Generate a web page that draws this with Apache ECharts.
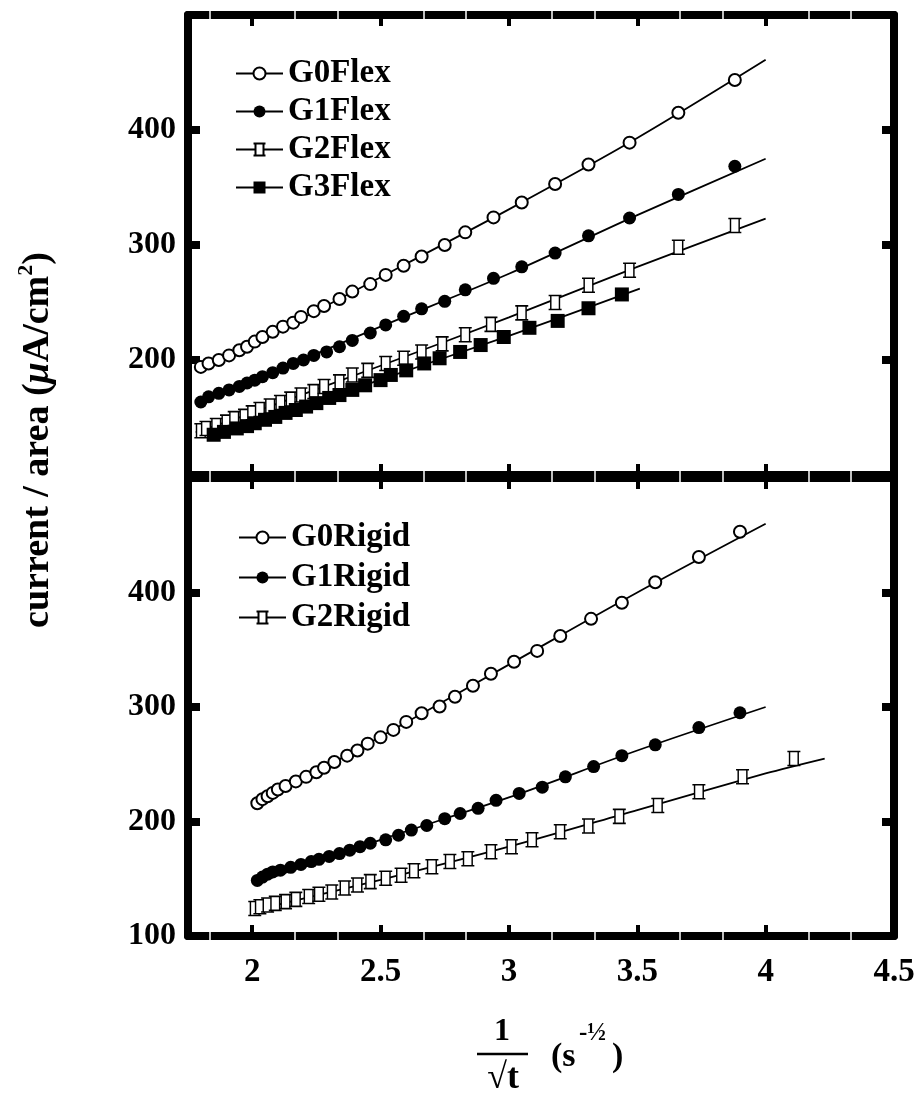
<!DOCTYPE html>
<html>
<head>
<meta charset="utf-8">
<script src="https://cdn.jsdelivr.net/npm/echarts@6.0.0/dist/echarts.min.js"></script>
<style>
html, body { margin: 0; padding: 0; background: #fff; }
#chart { width: 923px; height: 1099px; }
</style>
</head>
<body>
<div id="chart"></div>
<script>
// axis ticks
const xTicks = [2, 2.5, 3, 3.5, 4, 4.5]
const xMinor = [1.8333, 2.1667, 2.3333, 2.6667, 2.8333, 3.1667, 3.3333, 3.6667, 3.8333, 4.1667, 4.3333]
const yTicks = [200, 300, 400]
const yLabelsFlex = [200, 300, 400]
const yLabelsRigid = [100, 200, 300, 400]

// top panel: flexible
const g0FlexPts = [[1.80, 194], [1.83, 197], [1.87, 200], [1.91, 204], [1.95, 208.5], [1.98, 211.5], [2.01, 216], [2.04, 220], [2.08, 224.5], [2.12, 229], [2.16, 232.5], [2.19, 237.5], [2.24, 242.5], [2.28, 247], [2.34, 253], [2.39, 259.5], [2.46, 266], [2.52, 274], [2.59, 282], [2.66, 290], [2.75, 300], [2.83, 311], [2.94, 324], [3.05, 337], [3.18, 353], [3.31, 370], [3.47, 389], [3.66, 415], [3.88, 443.5]]
const g0FlexFit = [[1.78, 193], [2.0, 214], [2.5, 272], [3.0, 331], [3.5, 393], [4.0, 461]]
const g1FlexPts = [[1.80, 163.5], [1.83, 168], [1.87, 171], [1.91, 174], [1.95, 177], [1.98, 180], [2.01, 182.5], [2.04, 185.5], [2.08, 189], [2.12, 193], [2.16, 197], [2.20, 200], [2.24, 204], [2.29, 207], [2.34, 211.5], [2.39, 217], [2.46, 223.5], [2.52, 230.5], [2.59, 238], [2.66, 244.5], [2.75, 251], [2.83, 261], [2.94, 271], [3.05, 281], [3.18, 293], [3.31, 308], [3.47, 323.5], [3.66, 344], [3.88, 368.5]]
const g1FlexFit = [[1.78, 162], [2.0, 182], [2.5, 229], [3.0, 275], [3.5, 326], [4.0, 375]]
const g2FlexPts = [[1.80, 138.5], [1.82, 140.5], [1.86, 143], [1.90, 146], [1.93, 149], [1.97, 151], [2.00, 154], [2.03, 157], [2.07, 160], [2.11, 163], [2.15, 166], [2.19, 169.5], [2.24, 172.5], [2.28, 177], [2.34, 181], [2.39, 187], [2.45, 191], [2.52, 197], [2.59, 201.5], [2.66, 207], [2.74, 214], [2.83, 222], [2.93, 231], [3.05, 241], [3.18, 250], [3.31, 265], [3.47, 278], [3.66, 298], [3.88, 317]]
const g2FlexFit = [[1.78, 137], [2.0, 154], [2.5, 195], [3.0, 237], [3.5, 281], [4.0, 323]]
const g3FlexPts = [[1.85, 135], [1.89, 137.5], [1.94, 140.5], [1.98, 142.5], [2.01, 145], [2.05, 148], [2.09, 150.5], [2.13, 154], [2.17, 156.5], [2.21, 159.5], [2.25, 162.5], [2.30, 167], [2.34, 169.5], [2.39, 174], [2.44, 178], [2.50, 182.5], [2.54, 187], [2.60, 191], [2.67, 197], [2.73, 201.5], [2.81, 207], [2.89, 213], [2.98, 220], [3.08, 228], [3.19, 234], [3.31, 245], [3.44, 257]]
const g3FlexFit = [[1.84, 133], [2.0, 144], [2.5, 183], [3.0, 221], [3.51, 262]]

// bottom panel: rigid
const g0RigidPts = [[2.02, 216], [2.04, 219.5], [2.06, 222], [2.08, 225], [2.10, 228], [2.13, 231], [2.17, 235], [2.21, 239], [2.25, 243], [2.28, 247], [2.32, 252], [2.37, 257.5], [2.41, 262], [2.45, 268], [2.50, 273.5], [2.55, 280], [2.60, 287], [2.66, 294.5], [2.73, 300.5], [2.79, 309], [2.86, 318.5], [2.93, 329], [3.02, 339.5], [3.11, 349], [3.20, 362], [3.32, 377], [3.44, 391], [3.57, 409], [3.74, 431], [3.90, 453]]
const g0RigidFit = [[2.01, 214], [2.5, 274], [3.0, 337], [3.5, 400], [4.0, 460]]
const g1RigidPts = [[2.02, 148.5], [2.04, 151.5], [2.06, 154], [2.08, 156], [2.11, 157.5], [2.15, 160], [2.19, 162.5], [2.23, 165], [2.26, 167], [2.30, 169.5], [2.34, 172], [2.38, 175], [2.42, 178], [2.46, 181], [2.52, 184], [2.57, 188], [2.62, 192.5], [2.68, 196.5], [2.75, 202.5], [2.81, 207], [2.88, 211.5], [2.95, 218.5], [3.04, 224.5], [3.13, 230], [3.22, 239], [3.33, 248], [3.44, 257.5], [3.57, 267], [3.74, 282], [3.90, 295]]
const g1RigidFit = [[2.01, 146], [2.5, 184], [3.0, 221], [3.5, 262], [4.0, 300]]
const g2RigidPts = [[2.01, 124], [2.03, 125.5], [2.06, 127], [2.09, 128.5], [2.13, 130], [2.17, 132], [2.22, 134.5], [2.26, 136.5], [2.31, 138.5], [2.36, 142], [2.41, 144.5], [2.46, 147.5], [2.52, 150.5], [2.58, 153], [2.63, 157], [2.70, 160.5], [2.77, 165], [2.84, 167.5], [2.93, 173.5], [3.01, 178], [3.09, 184], [3.20, 191], [3.31, 196], [3.43, 204.5], [3.58, 214], [3.74, 226], [3.91, 239], [4.11, 255]]
const g2RigidFit = [[2.0, 122], [2.5, 149], [3.0, 178], [3.5, 210], [4.0, 242], [4.23, 255]]

const FONT = 'Liberation Serif'
const SQUARE_CAPS = 'path://M2 0H10V12H2Z M0 0H12 M0 12H12'

const markers = {
  g0: { symbol: 'emptyCircle', symbolSize: 12, itemStyle: { color: '#000', borderColor: '#000', borderWidth: 1.5, opacity: 1 } },
  g1: { symbol: 'circle', symbolSize: 13, itemStyle: { color: '#000', opacity: 1 } },
  g2: { symbol: SQUARE_CAPS, symbolSize: [13, 14], itemStyle: { color: '#fff', borderColor: '#000', borderWidth: 1.5, opacity: 1 } },
  g3: { symbol: 'rect', symbolSize: 14, itemStyle: { color: '#000', opacity: 1 } }
}

function fitSeries (name, data, panel, m) {
  return {
    name,
    type: 'line',
    xAxisIndex: panel * 2,
    yAxisIndex: panel * 2,
    data,
    smooth: 0.3,
    showSymbol: false,
    symbol: m.symbol,
    symbolSize: m.symbolSize,
    itemStyle: m.itemStyle,
    lineStyle: { color: '#000', width: 1.8 },
    silent: true,
    emphasis: { disabled: true },
    z: 2
  }
}

function pointSeries (name, data, panel, m) {
  return {
    name,
    type: 'scatter',
    xAxisIndex: panel * 2,
    yAxisIndex: panel * 2,
    data,
    symbol: m.symbol,
    symbolSize: m.symbolSize,
    itemStyle: m.itemStyle,
    silent: true,
    emphasis: { disabled: true },
    z: 3
  }
}

function xAxis (gi, pos, withLabels) {
  return {
    type: 'value',
    gridIndex: gi,
    position: pos,
    min: 1.75,
    max: 4.5,
    axisLine: { onZero: false, lineStyle: { color: '#000', width: 8 } },
    axisTick: { inside: true, length: 11, customValues: xTicks, lineStyle: { color: '#000', width: 4 } },
    axisLabel: {
      show: withLabels,
      customValues: xTicks,
      margin: 20,
      color: '#000',
      fontFamily: FONT,
      fontWeight: 'bold',
      fontSize: 33
    },
    splitLine: { show: false }
  }
}

// thin white slits across the thick frame
function slitAxis (gi, pos) {
  return {
    type: 'value',
    gridIndex: gi,
    position: pos,
    offset: 5,
    min: 1.75,
    max: 4.5,
    z: 5,
    axisLine: { show: false },
    axisTick: { inside: true, length: 10, customValues: xMinor, lineStyle: { color: '#fff', width: 1.5 } },
    axisLabel: { show: false },
    splitLine: { show: false }
  }
}

function yAxis (gi, pos, labels) {
  return {
    type: 'value',
    gridIndex: gi,
    position: pos,
    min: 100,
    max: 500,
    axisLine: { onZero: false, lineStyle: { color: '#000', width: 8 } },
    axisTick: { inside: true, length: 12, customValues: yTicks, lineStyle: { color: '#000', width: 8 } },
    axisLabel: {
      show: !!labels,
      customValues: labels || yTicks,
      margin: 12,
      color: '#000',
      fontFamily: FONT,
      fontWeight: 'bold',
      fontSize: 32
    },
    splitLine: { show: false }
  }
}

function legend (names, left, top, gap) {
  return {
    data: names,
    orient: 'vertical',
    left,
    top,
    padding: 0,
    itemWidth: 47,
    itemHeight: 15,
    itemGap: gap,
    selectedMode: false,
    textStyle: { color: '#000', fontFamily: FONT, fontWeight: 'bold', fontSize: 33, lineHeight: 32 }
  }
}

const txt = { fill: '#000', fontFamily: FONT, fontWeight: 'bold' }

let options = {
  animation: false,
  backgroundColor: '#fff',
  grid: [
    { left: 188, right: 29, top: 15, height: 460, outerBoundsMode: 'none' },
    { left: 188, right: 29, top: 478, height: 458, outerBoundsMode: 'none' }
  ],
  xAxis: [
    xAxis(0, 'bottom', false),
    xAxis(0, 'top', false),
    xAxis(1, 'bottom', true),
    xAxis(1, 'top', false),
    slitAxis(0, 'bottom'),
    slitAxis(0, 'top'),
    slitAxis(1, 'bottom'),
    slitAxis(1, 'top')
  ],
  yAxis: [
    yAxis(0, 'left', yLabelsFlex),
    yAxis(0, 'right', null),
    yAxis(1, 'left', yLabelsRigid),
    yAxis(1, 'right', null)
  ],
  legend: [
    legend(['G0Flex', 'G1Flex', 'G2Flex', 'G3Flex'], 235, 57, 5),
    legend(['G0Rigid', 'G1Rigid', 'G2Rigid'], 238, 521, 7)
  ],
  graphic: [
    {
      type: 'text',
      x: 38,
      y: 440,
      rotation: Math.PI / 2,
      style: Object.assign({}, txt, {
        text: 'current / area ({mu|μ}A/cm{sup|2})',
        fontSize: 38,
        lineHeight: 46,
        align: 'center',
        verticalAlign: 'middle',
        rich: {
          mu: Object.assign({}, txt, { fontSize: 38, fontStyle: 'italic', lineHeight: 46 }),
          sup: Object.assign({}, txt, { fontSize: 22, lineHeight: 22, verticalAlign: 'top' })
        }
      })
    },
    { type: 'text', x: 502, y: 1032, style: Object.assign({}, txt, { text: '1', fontSize: 32, align: 'center', verticalAlign: 'middle' }) },
    { type: 'line', shape: { x1: 477, y1: 1054, x2: 528, y2: 1054 }, style: { stroke: '#000', lineWidth: 2.5 } },
    { type: 'text', x: 503, y: 1079, style: Object.assign({}, txt, { text: '√t', fontSize: 36, align: 'center', verticalAlign: 'middle' }) },
    { type: 'text', x: 551, y: 1057, style: Object.assign({}, txt, { text: '(s', fontSize: 34, align: 'left', verticalAlign: 'middle' }) },
    { type: 'text', x: 579, y: 1034, style: Object.assign({}, txt, { text: '-½', fontSize: 25, align: 'left', verticalAlign: 'middle' }) },
    { type: 'text', x: 612, y: 1057, style: Object.assign({}, txt, { text: ')', fontSize: 34, align: 'left', verticalAlign: 'middle' }) }
  ],
  series: [
    fitSeries('G0Flex', g0FlexFit, 0, markers.g0),
    fitSeries('G1Flex', g1FlexFit, 0, markers.g1),
    fitSeries('G2Flex', g2FlexFit, 0, markers.g2),
    fitSeries('G3Flex', g3FlexFit, 0, markers.g3),
    fitSeries('G0Rigid', g0RigidFit, 1, markers.g0),
    fitSeries('G1Rigid', g1RigidFit, 1, markers.g1),
    fitSeries('G2Rigid', g2RigidFit, 1, markers.g2),
    pointSeries('G0Flex', g0FlexPts, 0, markers.g0),
    pointSeries('G1Flex', g1FlexPts, 0, markers.g1),
    pointSeries('G2Flex', g2FlexPts, 0, markers.g2),
    pointSeries('G3Flex', g3FlexPts, 0, markers.g3),
    pointSeries('G0Rigid', g0RigidPts, 1, markers.g0),
    pointSeries('G1Rigid', g1RigidPts, 1, markers.g1),
    pointSeries('G2Rigid', g2RigidPts, 1, markers.g2)
  ]
}

let myChart = echarts.init(document.getElementById('chart'), null, { renderer: 'canvas' })
myChart.setOption(options)
</script>
</body>
</html>
